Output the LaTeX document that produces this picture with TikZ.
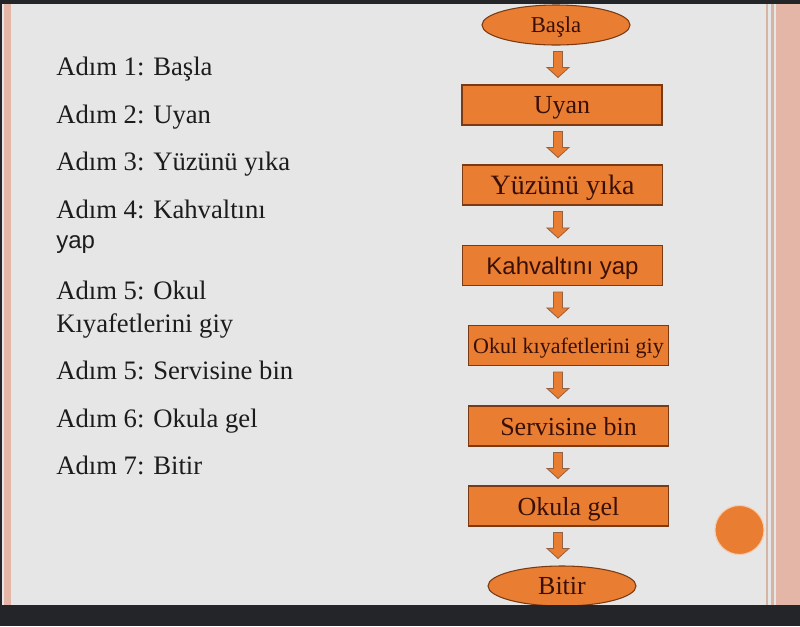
\documentclass[tikz,border=0pt]{standalone}
\usepackage{fontspec}
\setmainfont{Liberation Serif}
\setsansfont{Liberation Sans}
\usetikzlibrary{calc,shapes.geometric}

\definecolor{slidebg}{HTML}{E6E6E6}
\definecolor{barcol}{HTML}{232528}
\definecolor{boxfill}{HTML}{E97D31}
\definecolor{boxline}{HTML}{7A3A14}
\definecolor{boxtext}{HTML}{3A1006}
\definecolor{stepcol}{HTML}{1C1C1C}
\definecolor{edgepink}{HTML}{E4B6A8}
\definecolor{edgetan}{HTML}{D6B4A4}

% block arrow from one flow node down to the next
\newcommand{\flowarrow}[2]{%
    \path (col |- #1.south) ++(0,6) coordinate (t) (col |- #2.north) ++(0,-7) coordinate (h);
    \draw [blockarr] ($(t)+(-4.5,0)$) -- ($(t)+(4.5,0)$) -- ($(h)+(4.5,-10)$) -- ($(h)+(11,-10)$) -- (h) -- ($(h)+(-11,-10)$) -- ($(h)+(-4.5,-10)$) -- cycle;}

\begin{document}
\begin{tikzpicture}[x=0.75pt,y=-0.75pt,
        startstop/.style={ellipse,draw=boxline,line width=0.8pt,fill=boxfill,text=boxtext,minimum width=111pt,minimum height=30pt,inner sep=0pt,text depth=0pt},
        stepbox/.style={rectangle,draw=boxline,line width=0.8pt,fill=boxfill,text=boxtext,minimum width=150pt,minimum height=30pt,inner sep=0pt,text depth=0pt,font=\fontsize{19.5}{22}\selectfont},
        blockarr/.style={draw=boxline!80,line width=0.6pt,fill=boxfill,line join=miter},
        adim/.style={anchor=base west,inner sep=0pt,text=stepcol,font=\fontsize{20}{24}\selectfont}]
            \fill [slidebg] (0,0) rectangle (800,626);
            \useasboundingbox (0,0) rectangle (800,626);
            \fill [barcol] (0,0) rectangle (800,4);
            \fill [barcol] (0,0) rectangle (2,626);
            \fill [edgepink] (4,4) rectangle (11,605);
            \fill [edgetan] (766,4) rectangle (768,605);
            \fill [edgetan] (771,4) rectangle (774,605);
            \fill [edgepink] (776,4) rectangle (800,605);

            \node (adim1) at (56,75) [adim] {Adım 1: Başla};
            \node (adim2) at (56,123) [adim] {Adım 2: Uyan};
            \node (adim3) at (56,170) [adim] {Adım 3: Yüzünü yıka};
            \node (adim4) at (56,218) [adim] {Adım 4: Kahvaltını};
            \node (adim4b) at (56,248) [adim,font=\sffamily\fontsize{18}{22}\selectfont] {yap};
            \node (adim5) at (56,299) [adim] {Adım 5: Okul};
            \node (adim5b) at (56,332) [adim] {Kıyafetlerini giy};
            \node (adim6) at (56,379) [adim] {Adım 5: Servisine bin};
            \node (adim7) at (56,427) [adim] {Adım 6: Okula gel};
            \node (adim8) at (56,474) [adim] {Adım 7: Bitir};

            \coordinate (col) at (558,0);
            \node (basla) at (556,25) [startstop,font=\fontsize{17}{20}\selectfont] {Başla};
            \node (uyan) at (562,105) [stepbox] {Uyan};
            \node (yika) at (562.5,185) [stepbox,font=\fontsize{21}{24}\selectfont] {Yüzünü yıka};
            \node (kahvalti) at (562.5,265.5) [stepbox,font=\sffamily\fontsize{18}{22}\selectfont] {Kahvaltını yap};
            \node (kiyafet) at (568.5,345.5) [stepbox,font=\fontsize{16.5}{20}\selectfont] {Okul kıyafetlerini giy};
            \node (servis) at (568.5,426) [stepbox] {Servisine bin};
            \node (okula) at (568.5,506) [stepbox] {Okula gel};
            \node (bitir) at (562,586) [startstop,font=\fontsize{19.5}{22}\selectfont] {Bitir};

            \flowarrow{basla}{uyan}
            \flowarrow{uyan}{yika}
            \flowarrow{yika}{kahvalti}
            \flowarrow{kahvalti}{kiyafet}
            \flowarrow{kiyafet}{servis}
            \flowarrow{servis}{okula}
            \flowarrow{okula}{bitir}

            \node (dot) at (739.5,530) [circle,fill=boxfill,draw=boxfill!40,line width=0.8pt,minimum size=36.75pt,inner sep=0pt] {};
            \fill [barcol] (0,605) rectangle (800,626);
\end{tikzpicture}
\end{document}
